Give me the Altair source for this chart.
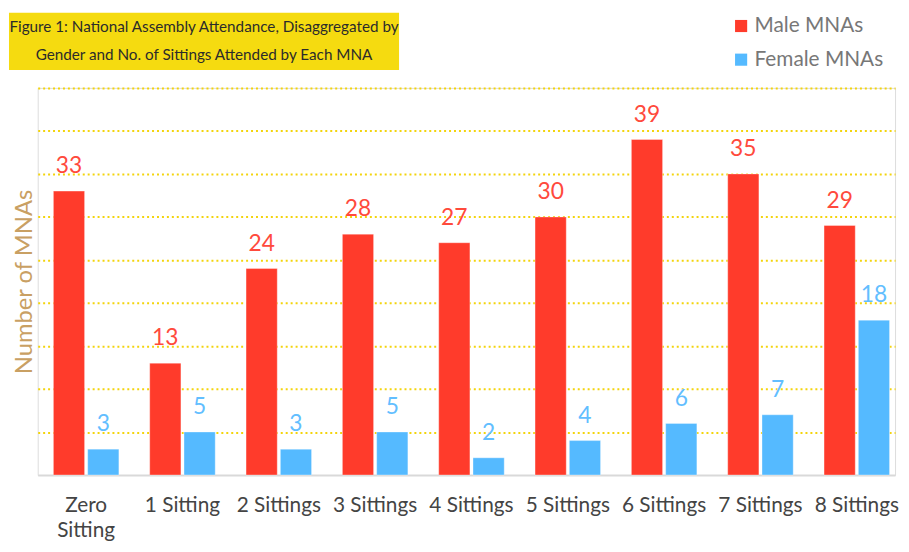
import altair as alt
import pandas as pd

categories = ["Zero Sitting", "1 Sitting", "2 Sittings", "3 Sittings", "4 Sittings",
              "5 Sittings", "6 Sittings", "7 Sittings", "8 Sittings"]
male = [33, 13, 24, 28, 27, 30, 39, 35, 29]
female = [3, 5, 3, 5, 2, 4, 6, 7, 18]
series = ["Male MNAs", "Female MNAs"]
colors = ["#FF3B2B", "#55BAFF"]
title_line1 = "Figure 1: National Assembly Attendance, Disaggregated by"
title_line2 = "Gender and No. of Sittings Attended by Each MNA"
grid_values = [5, 10, 15, 20, 25, 30, 35, 40, 45]

rows = []
for c, m, f in zip(categories, male, female):
    rows.append({"category": c, "gender": series[0], "value": m})
    rows.append({"category": c, "gender": series[1], "value": f})
df = pd.DataFrame(rows)

FONT = "Lato"

x_enc = alt.X("category:N", sort=categories,
              scale=alt.Scale(paddingInner=0.32, paddingOuter=0.11, align=0.74),
              axis=alt.Axis(title=None, labelAngle=0, labelFontSize=21, labelColor="#444444",
                            labelFont=FONT, ticks=False, domain=True, domainColor="#D9D9D9",
                            domainWidth=2, labelPadding=20, labelLineHeight=25,
                            labelExpr="datum.label == 'Zero Sitting' ? ['Zero', 'Sitting'] : datum.label"))
xoff = alt.XOffset("gender:N", sort=series, scale=alt.Scale(paddingInner=0.09))
y_enc = alt.Y("value:Q", scale=alt.Scale(domain=[0, 45], nice=False),
              axis=alt.Axis(title="Number of MNAs", titleColor="#C9A063", titleFontSize=24,
                            titleFont=FONT, titleFontWeight="normal", titlePadding=1,
                            labels=False, ticks=False, domain=False, grid=True,
                            gridColor="#F3D40C", gridDash=[2, 3], gridWidth=2,
                            values=grid_values))

bars = alt.Chart(df).mark_bar(stroke="#ffffff", strokeWidth=1, strokeOpacity=0.35).encode(
    x=x_enc, xOffset=xoff, y=y_enc,
    color=alt.Color("gender:N", sort=series,
                    scale=alt.Scale(domain=series, range=colors),
                    legend=alt.Legend(title=None, orient="none", legendX=700, legendY=-73,
                                      symbolType="square", symbolSize=150,
                                      symbolStrokeWidth=0, labelFontSize=21,
                                      labelColor="#777777", labelFont=FONT,
                                      rowPadding=12, labelOffset=3)),
)

labels = alt.Chart(df).mark_text(baseline="bottom", dy=-13, fontSize=23, font=FONT).encode(
    x=alt.X("category:N", sort=categories), xOffset=alt.XOffset("gender:N", sort=series),
    y="value:Q", text="value:Q",
    color=alt.condition(alt.datum.gender == "Male MNAs", alt.value("#FF4A3C"), alt.value("#62BEFF")),
)

box_data = alt.Data(values=[{"k": 1}])
box = alt.Chart(box_data).mark_rect(color="#F5DB10").encode(
    x=alt.value(-29), x2=alt.value(365), y=alt.value(-76), y2=alt.value(-18))
t1 = alt.Chart(box_data).mark_text(text=title_line1, fontSize=15.4, font=FONT,
                                   color="#2B2B2B", align="center", baseline="middle").encode(
    x=alt.value(168), y=alt.value(-61))
t2 = alt.Chart(box_data).mark_text(text=title_line2, fontSize=15.4, font=FONT,
                                   color="#2B2B2B", align="center", baseline="middle").encode(
    x=alt.value(168), y=alt.value(-33))

chart = alt.layer(box, t1, t2, bars, labels).properties(
    width=866, height=391,
    padding={"left": 0, "top": 2, "right": 2, "bottom": 0}
).configure_view(stroke=None).configure(font=FONT)

chart.save("out.html", embed_options={"renderer": "svg", "actions": False})
